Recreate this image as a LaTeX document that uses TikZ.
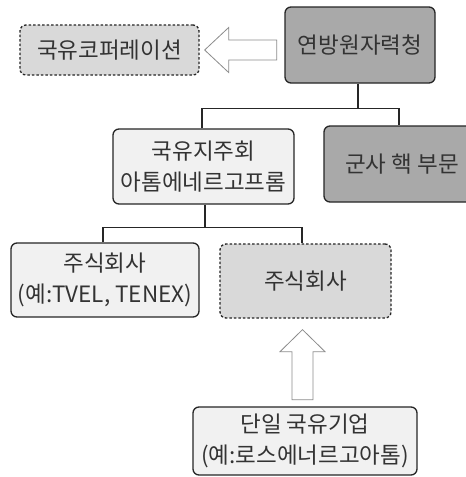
\documentclass[tikz,border=0pt]{standalone}
\usepackage{fontspec}
\setmainfont{Noto Sans CJK KR}
\usetikzlibrary{calc}
\definecolor{darkbox}{HTML}{A9A9A9}
\definecolor{lightbox}{HTML}{F1F1F1}
\definecolor{dashbox}{HTML}{D9D9D9}
\definecolor{txt}{HTML}{333333}
\definecolor{arrowline}{HTML}{8C8C8C}
\tikzset{
  box/.style={draw=black!85, line width=1.3pt, rounded corners=6pt, align=center,
    text=txt, font=\fontsize{22.5}{31.5}\selectfont, inner sep=0pt},
  solidlight/.style={box, fill=lightbox},
  soliddark/.style={box, fill=darkbox},
  dashedbox/.style={box, fill=dashbox, dash pattern=on 2.5pt off 2pt},
  conn/.style={draw=black!85, line width=1.3pt},
  hollow/.style={draw=arrowline, fill=white, line width=0.8pt, line join=miter}
}
\begin{document}
\begin{tikzpicture}[x=1pt,y=-1pt]
\clip (0,0) rectangle (466,477);
\fill[white] (0,0) rectangle (466,477);
\node[soliddark, minimum width=150pt, minimum height=76pt] (fed) at (360,45) {연방원자력청};
\node[dashedbox, minimum width=179pt, minimum height=50pt] (coop) at (109.5,50) {국유코퍼레이션};
\node[solidlight, minimum width=181pt, minimum height=75pt] (hold) at (203.5,166.5) {국유지주회\\아톰에네르고프롬};
\node[soliddark, minimum width=156pt, minimum height=76pt] (mil) at (402,164) {군사 핵 부문};
\node[solidlight, minimum width=188pt, minimum height=74pt] (jsc1) at (105,280) {주식회사\\(예:TVEL, TENEX)};
\node[dashedbox, minimum width=171pt, minimum height=74pt] (jsc2) at (305.5,281) {주식회사};
\node[solidlight, minimum width=224pt, minimum height=68pt] (single) at (305,441) {단일 국유기업\\(예:로스에너르고아톰)};
% connectors
\coordinate (j1) at ($(fed.south)+(-2,25)$);
\draw[conn] (fed.south -| j1) -- (j1);
\draw[conn] (hold.north -| 202,0) |- (j1) -| ($(mil.north)+(-3,0)$);
\coordinate (j2) at ($(hold.south)+(1.5,23)$);
\draw[conn] (hold.south -| j2) -- (j2);
\draw[conn] (jsc1.north -| 103,0) |- (j2) -| (jsc2.north -| 302,0);
% hollow arrow left: from fed to coop
\coordinate (t1) at ($(coop.east)+(5,0)$);
\draw[hollow] (t1) -- ++(24,-22.5) -- ++(0,12.5) -- ++(48,0) -- ++(0,20) -- ++(-48,0) -- ++(0,12.5) -- cycle;
% hollow arrow up: from single to jsc2
\coordinate (t2) at ($(jsc2.south)+(-3,11)$);
\draw[hollow] (t2) -- ++(22.5,22) -- ++(-12,0) -- ++(0,48) -- ++(-21,0) -- ++(0,-48) -- ++(-12,0) -- cycle;
\end{tikzpicture}
\end{document}
